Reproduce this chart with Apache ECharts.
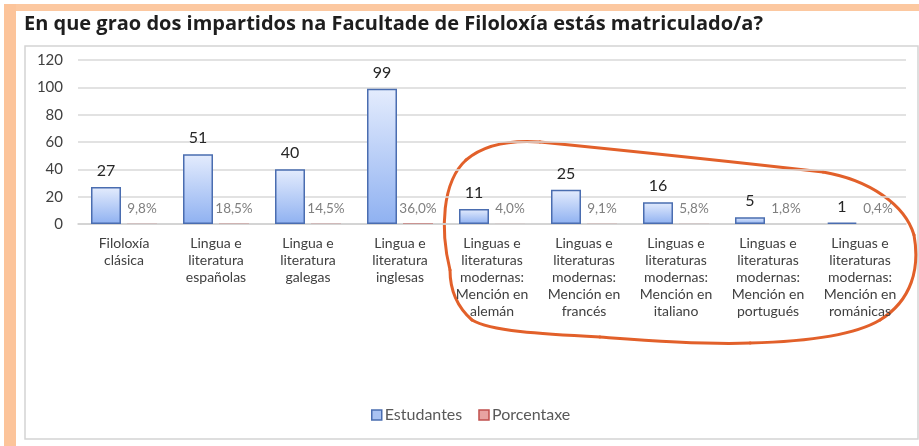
<!DOCTYPE html>
<html>
<head>
<meta charset="utf-8">
<script src="https://cdn.jsdelivr.net/npm/echarts@6/dist/echarts.min.js"></script>
<style>
  html, body { margin: 0; padding: 0; background: #fff; }
  #chart { width: 919px; height: 446px; }
</style>
</head>
<body>
<div id="chart"></div>
<script>
// categories (graos) and values
const graos = [
  "Filoloxía\nclásica",
  "Lingua e\nliteratura\nespañolas",
  "Lingua e\nliteratura\ngalegas",
  "Lingua e\nliteratura\ninglesas",
  "Linguas e\nliteraturas\nmodernas:\nMención en\nalemán",
  "Linguas e\nliteraturas\nmodernas:\nMención en\nfrancés",
  "Linguas e\nliteraturas\nmodernas:\nMención en\nitaliano",
  "Linguas e\nliteraturas\nmodernas:\nMención en\nportugués",
  "Linguas e\nliteraturas\nmodernas:\nMención en\nrománicas"
];
const estudantes = [27, 51, 40, 99, 11, 25, 16, 5, 1];
// share of students, as fractions (plotted on the same axis, so almost flat)
const porcentaxe = [0.098, 0.185, 0.145, 0.360, 0.040, 0.091, 0.058, 0.018, 0.004];
const yTicks = { min: 0, max: 120, interval: 20 };

const chart = echarts.init(document.getElementById("chart"));

const pct = v => (v * 100).toFixed(1).replace(".", ",") + "%";

// hand drawn loop round the "modernas" group: start point, then [cp1, cp2, end] per segment
const loopStart = [450, 270];
const loopSegs = [
  [[440, 230], [442, 182], [466, 160]],
  [[486, 143], [512, 140], [540, 142]],
  [[620, 150], [700, 158], [823, 172]],
  [[870, 180], [905, 205], [914, 235]],
  [[920, 268], [912, 300], [880, 320]],
  [[850, 338], [790, 342], [750, 343]],
  [[700, 345], [640, 340], [600, 337]],
  [[540, 334], [490, 331], [472, 320]],
  [[456, 306], [450, 290], [450, 270]]
];
let prev = loopStart;
const loopCurves = loopSegs.map(s => {
  const c = {
    type: "bezierCurve",
    shape: {
      x1: prev[0], y1: prev[1],
      cpx1: s[0][0], cpy1: s[0][1],
      cpx2: s[1][0], cpy2: s[1][1],
      x2: s[2][0], y2: s[2][1]
    },
    style: { fill: null, stroke: "#e2602a", lineWidth: 3, lineCap: "round" }
  };
  prev = s[2];
  return c;
});

chart.setOption({
  animation: false,
  backgroundColor: "#fff",
  textStyle: { fontFamily: "Lato" },
  title: {
    text: "En que grao dos impartidos na Facultade de Filoloxía estás matriculado/a?",
    left: 19,
    top: 9,
    textStyle: {
      fontFamily: "Open Sans",
      fontWeight: "bold",
      fontSize: 20,
      color: "#1e1e1e"
    }
  },
  graphic: [
    // orange frame of the screenshot
    { type: "rect", shape: { x: 4, y: 4, width: 915, height: 7 }, style: { fill: "#fcc8a0" }, z: 0 },
    { type: "rect", shape: { x: 4, y: 4, width: 12, height: 442 }, style: { fill: "#fcc49a" }, z: 0 },
    // grey chart area box
    { type: "rect", shape: { x: 25, y: 46, width: 893, height: 393 },
      style: { fill: null, stroke: "#d4d4d4", lineWidth: 1.5 }, z: 0 },
    { type: "group", z: 100, children: loopCurves }
  ],
  legend: {
    left: 366,
    top: 402,
    itemWidth: 10,
    itemHeight: 10,
    itemGap: 16,
    icon: "rect",
    textStyle: { color: "#595959", fontSize: 16, fontFamily: "Lato", padding: [0, 0, 0, -2] },
    data: [
      { name: "Estudantes", itemStyle: { color: "#a9c2f2", borderColor: "#4a6db0", borderWidth: 1.5 } },
      { name: "Porcentaxe", itemStyle: { color: "#e8a3a1", borderColor: "#c0504d", borderWidth: 1.5 } }
    ]
  },
  grid: { left: 78, right: 13, top: 60, bottom: 222, containLabel: false },
  xAxis: {
    type: "category",
    data: graos,
    axisTick: { show: false },
    axisLine: { lineStyle: { color: "#d0d0d0", width: 1.5 } },
    axisLabel: {
      interval: 0,
      color: "#404040",
      fontSize: 14,
      lineHeight: 17,
      margin: 11
    }
  },
  yAxis: {
    type: "value",
    min: yTicks.min,
    max: yTicks.max,
    interval: yTicks.interval,
    axisLine: { show: false },
    axisTick: { show: false },
    axisLabel: { color: "#404040", fontSize: 15, margin: 15 },
    splitLine: { lineStyle: { color: "#d9d9d9", width: 1.5 } }
  },
  series: [
    {
      name: "Estudantes",
      type: "bar",
      data: estudantes,
      barWidth: 30,
      barGap: "20%",
      itemStyle: {
        color: {
          type: "linear", x: 0, y: 0, x2: 0, y2: 1,
          colorStops: [
            { offset: 0, color: "#e4ecfd" },
            { offset: 1, color: "#8fb1f1" }
          ]
        },
        borderColor: "#4a6db0",
        borderWidth: 1.5
      },
      label: {
        show: true,
        position: "top",
        distance: 8,
        color: "#262626",
        fontSize: 16
      }
    },
    {
      name: "Porcentaxe",
      type: "bar",
      data: porcentaxe,
      barWidth: 30,
      itemStyle: { color: "#c0504d" },
      label: {
        show: true,
        position: "top",
        distance: 8,
        color: "#7f7f7f",
        fontSize: 13.5,
        formatter: p => pct(p.value)
      }
    }
  ]
});
</script>
</body>
</html>
